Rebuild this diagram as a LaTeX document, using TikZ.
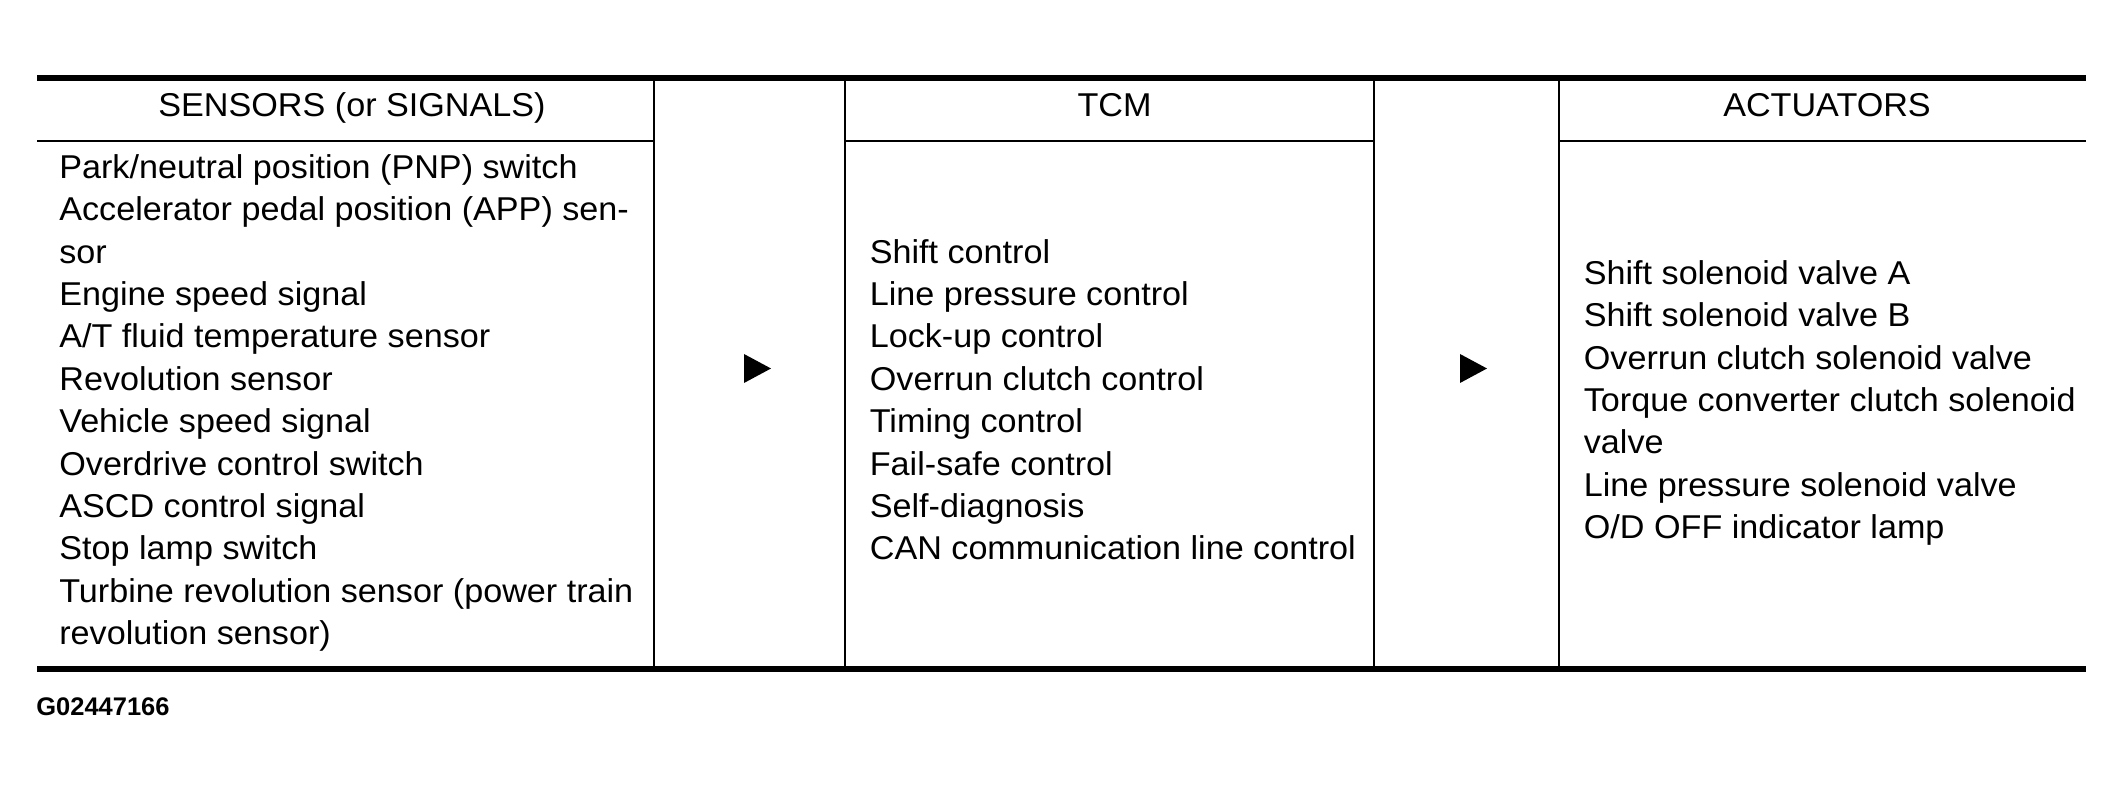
\documentclass[tikz,border=0pt]{standalone}
\usepackage{fontspec}
\setmainfont[FakeStretch=1.035]{Liberation Sans}
\newfontfamily\figfont{Liberation Sans}
\usetikzlibrary{positioning}

\begin{document}
\begin{tikzpicture}[
        rule/.style={line width=3.4pt},
        colline/.style={line width=1.6pt},
        headline/.style={line width=1.2pt},
        item/.style={inner sep=0pt, anchor=base west, font=\fontsize{18.78pt}{24.13pt}\selectfont},
        headtxt/.style={item, anchor=base}
    ]
    \useasboundingbox (0, 0) rectangle (42.48, 15.82);

    % frame of the table
    \draw[rule] (0.74, 14.26) -- (41.72, 14.26);
    \draw[rule] (0.74, 2.44) -- (41.72, 2.44);
    \foreach \x in {13.08, 16.9, 27.48, 31.18}
        \draw[colline] (\x, 14.26) -- (\x, 2.44);
    \draw[headline]
    (0.74, 13.0) -- (13.08, 13.0)
    (16.9, 13.0) -- (27.48, 13.0)
    (31.18, 13.0) -- (41.72, 13.0);

    \node[headtxt] (sensors) at (7.04, 13.48) {SENSORS (or SIGNALS)};
    \node[headtxt] (tcm) at (22.29, 13.48) {TCM};
    \node[headtxt] (actuators) at (36.54, 13.48) {ACTUATORS};

    \foreach \t [count=\i] in {
        {Park/neutral position (PNP) switch},
        {Accelerator pedal position (APP) sen-},
        {sor},
        {Engine speed signal},
        {A/T fluid temperature sensor},
        {Revolution sensor},
        {Vehicle speed signal},
        {Overdrive control switch},
        {ASCD control signal},
        {Stop lamp switch},
        {Turbine revolution sensor (power train},
        {revolution sensor)}}
        \node[item] (sensor\i) at (1.18, {12.254 - 0.848*(\i - 1)}) {\t};

    \foreach \t [count=\i] in {
        {Shift control},
        {Line pressure control},
        {Lock-up control},
        {Overrun clutch control},
        {Timing control},
        {Fail-safe control},
        {Self-diagnosis},
        {CAN communication line control}}
        \node[item] (control\i) at (17.39, {10.558 - 0.848*(\i - 1)}) {\t};

    \foreach \t [count=\i] in {
        {Shift solenoid valve A},
        {Shift solenoid valve B},
        {Overrun clutch solenoid valve},
        {Torque converter clutch solenoid},
        {valve},
        {Line pressure solenoid valve},
        {O/D OFF indicator lamp}}
        \node[item] (actuator\i) at (31.67, {10.134 - 0.848*(\i - 1)}) {\t};

    % flow marks
    \foreach \x/\n in {14.88/toTCM, 29.2/toAct}
        \fill (\x, 8.74) coordinate (\n) -- ++(0.54, -0.29) -- ++(-0.54, -0.29) -- cycle;

    \node[anchor=base west, inner sep=0pt, font=\figfont\bfseries\fontsize{14.5pt}{17pt}\selectfont] (fig) at (0.72, 1.5) {G02447166};
\end{tikzpicture}
\end{document}
